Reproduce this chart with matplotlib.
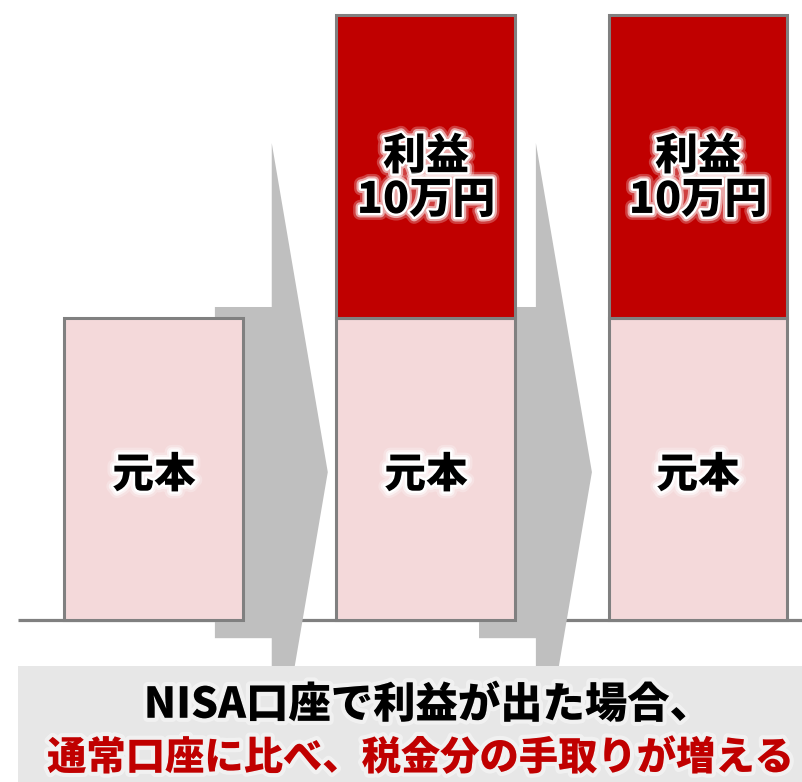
import matplotlib
matplotlib.use("Agg")
import matplotlib.pyplot as plt
from matplotlib.patches import Rectangle, Polygon
import matplotlib.patheffects as pe
import numpy as np

plt.rcParams['font.family'] = ['Noto Sans CJK JP', 'DejaVu Sans']

# values in 万円
stages = ["投資前", "通常口座", "NISA口座"]
principal = [10, 10, 10]
profit = [0, 10, 10]
principal_label = "元本"
profit_word = "利益"
caption_line1 = "NISA口座で利益が出た場合、"
caption_line2 = "通常口座に比べ、税金分の手取りが増える"

PINK = "#F4D9DA"
RED = "#C00000"
EDGE = "#808080"
ARROW = "#BFBFBF"
PANEL = "#E7E7E7"
WEIGHT = "black"

fig = plt.figure(figsize=(8.03, 7.82), dpi=100)
ax = fig.add_axes([0, 0, 1, 1])
ax.set_xlim(-0.566, 2.386)
ax.set_ylim(-5.355, 20.5)
ax.axis("off")

x = np.arange(len(stages))
principal = np.array(principal, dtype=float)
profit = np.array(profit, dtype=float)
width = 0.658

# ground line
ax.plot([x[0] - 0.5, ax.get_xlim()[1]], [0, 0], color=EDGE, lw=2.3,
        solid_capstyle="butt", zorder=1)

# chevron arrows between the stages
arrow_x = [x[0] + 0.224, x[1] + 0.195]
for ax0 in arrow_x:
    body_l, head_l, tip = ax0, ax0 + 0.209, ax0 + 0.415
    pts = [(body_l, -0.6), (body_l, 10.35), (head_l, 10.35), (head_l, 15.77),
           (tip, 4.89), (head_l, -5.99), (head_l, -0.6)]
    ax.add_patch(Polygon(pts, closed=True, facecolor=ARROW, edgecolor="none",
                         zorder=2))

# stacked bars
ax.bar(x, principal, width=width, color=PINK, edgecolor=EDGE, linewidth=2.2,
       zorder=3)
has_profit = profit > 0
ax.bar(x[has_profit], profit[has_profit], bottom=principal[has_profit],
       width=width, color=RED, edgecolor=EDGE, linewidth=2.2, zorder=3)

glow = [pe.Stroke(linewidth=10, foreground="white", alpha=0.25),
        pe.Stroke(linewidth=6.5, foreground="white", alpha=0.55),
        pe.Stroke(linewidth=3.5, foreground="white", alpha=1.0),
        pe.Normal()]

for xi, p, q in zip(x, principal, profit):
    ax.text(xi, p / 2 - 0.22, principal_label, ha="center", va="center",
            fontsize=30, fontweight=WEIGHT, color="black",
            path_effects=glow, zorder=5)
    if q > 0:
        ax.text(xi, p + q / 2 - 0.4, f"{profit_word}\n{q:g}万円",
                ha="center", va="center", fontsize=31, fontweight=WEIGHT,
                color="black", linespacing=1.0, path_effects=glow, zorder=5)

# caption panel
ax.add_patch(Rectangle((x[0] - 0.5, ax.get_ylim()[0]),
                       ax.get_xlim()[1] - (x[0] - 0.5),
                       -1.52 - ax.get_ylim()[0],
                       facecolor=PANEL, edgecolor="none", zorder=6))

soft = [pe.Stroke(linewidth=6, foreground="white", alpha=0.45), pe.Normal()]
fig.text(428 / 803, 1 - 705 / 782, caption_line1, ha="center", va="center",
         fontsize=30.5, fontweight=WEIGHT, color="black", path_effects=soft,
         zorder=7)
fig.text(420 / 803, 1 - 758 / 782, caption_line2, ha="center", va="center",
         fontsize=28.3, fontweight=WEIGHT, color=RED, path_effects=soft,
         zorder=7)

fig.savefig("out.png", dpi=100)
